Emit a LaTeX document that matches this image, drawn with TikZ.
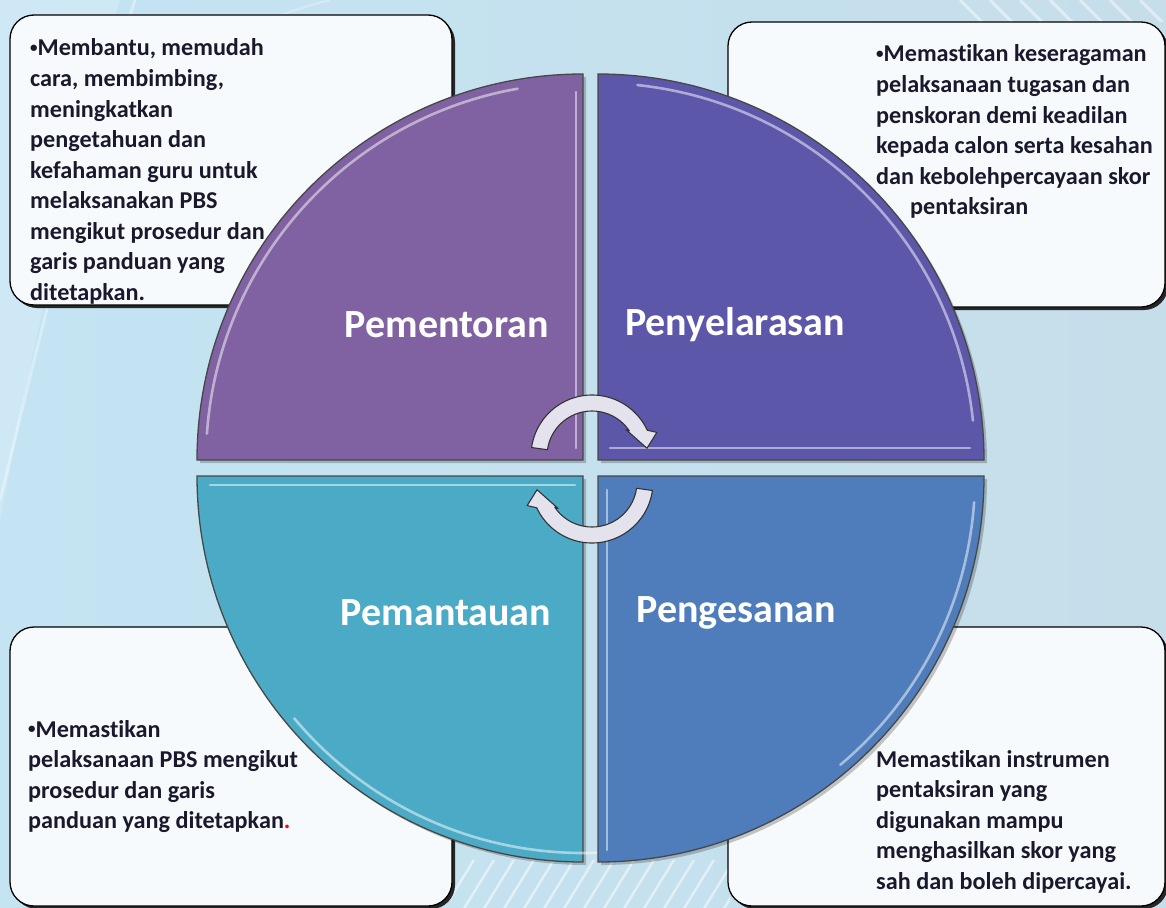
\documentclass[tikz,border=0pt]{standalone}
\usepackage{fontspec}
\setmainfont{Carlito}[Ligatures=NoCommon]
\newcommand\smallbul{\raisebox{0.28ex}{\fontsize{15}{15}\selectfont •}}
\begin{document}
\begin{tikzpicture}[x=1pt,y=1pt]
\definecolor{bgL}{RGB}{196,228,243}
\definecolor{bgM}{RGB}{212,238,248}
\definecolor{bgR}{RGB}{198,222,234}
\definecolor{cTL}{RGB}{128,98,162}
\definecolor{cTR}{RGB}{93,87,170}
\definecolor{cBL}{RGB}{75,170,198}
\definecolor{cBR}{RGB}{79,124,186}
\definecolor{txtc}{RGB}{26,24,44}
\definecolor{arrc}{RGB}{228,226,236}
\definecolor{boxc}{RGB}{247,250,252}
\tikzset{
  quad/.style={draw=black!72, line width=1.3pt},
  hl/.style={draw=white, opacity=0.5, line width=2.6pt, line cap=round},
  shadowq/.style={fill=black, opacity=0.22},
  tbox/.style={fill=boxc, draw=black, line width=1.3pt, rounded corners=24pt},
  tshadow/.style={fill=black!85, rounded corners=24pt},
  bodytxt/.style={anchor=base west, inner sep=0pt, text=txtc, font=\bfseries\fontsize{24.2}{28}\selectfont},
  lbl/.style={inner sep=0pt, text=white, font=\bfseries\fontsize{40}{42}\selectfont},
  cyc/.style={fill=arrc, draw=black!80, line width=1.1pt, line join=round}
}
\useasboundingbox (0,0) rectangle (1166,-907);
% background
\shade[left color=bgL, middle color=bgM, right color=bgR] (0,0) rectangle (1166,-907);
\fill[white, opacity=0.18] (120,0) .. controls (60,-200) and (20,-420) .. (0,-520) -- (0,0) -- cycle;
\draw[white, opacity=0.35, line width=3pt] (135,0) .. controls (70,-200) and (25,-400) .. (0,-500);
\draw[white, opacity=0.3, line width=2pt] (330,0) .. controls (250,-20) and (180,-60) .. (140,-100);
\begin{scope}
\clip (450,-860) rectangle (730,-907);
\foreach \k in {0,...,14} {
  \draw[white, opacity=0.5, line width=2.5pt] ({440+20*\k},-915) -- ({480+20*\k},-850);
}
\end{scope}
\begin{scope}
\clip (880,0) rectangle (1166,-22);
\foreach \k in {0,...,6} {
  \draw[white, opacity=0.45, line width=3pt] ({960+30*\k},0) -- ({990+30*\k},-30);
}
\end{scope}
% text boxes
\fill[tshadow] (13,-18) rectangle (455,-308);
\draw[tbox] (10,-15) rectangle (452,-305);
\fill[tshadow] (731,-25) rectangle (1168,-310);
\draw[tbox] (728,-22) rectangle (1165,-307);
\fill[tshadow] (13,-630) rectangle (455,-909);
\draw[tbox] (10,-627) rectangle (452,-906);
\fill[tshadow] (731,-630) rectangle (1168,-909);
\draw[tbox] (728,-627) rectangle (1165,-906);
% quadrant shadows
\fill[shadowq] (586,-463) -- (200,-463) arc[start angle=180,end angle=90,radius=386] -- cycle;
\fill[shadowq] (601,-463) -- (601,-77) arc[start angle=90,end angle=0,radius=386] -- cycle;
\fill[shadowq] (586,-479) -- (200,-479) arc[start angle=180,end angle=270,radius=386] -- cycle;
\fill[shadowq] (601,-479) -- (987,-479) arc[start angle=0,end angle=-90,radius=386] -- cycle;
% quadrants
\filldraw[quad, fill=cTL] (583,-460) -- (197,-460) arc[start angle=180,end angle=90,radius=386] -- cycle;
\filldraw[quad, fill=cTR] (598,-460) -- (598,-74) arc[start angle=90,end angle=0,radius=386] -- cycle;
\filldraw[quad, fill=cBL] (583,-476) -- (197,-476) arc[start angle=180,end angle=270,radius=386] -- cycle;
\filldraw[quad, fill=cBR] (598,-476) -- (984,-476) arc[start angle=0,end angle=-90,radius=386] -- cycle;
% highlights
\draw[hl] (576,-92) -- (576,-448);
\draw[hl] ([shift={(176:377)}]583,-460) arc[start angle=176,end angle=100,radius=377];
\draw[hl] (610,-448) -- (970,-448);
\draw[hl] ([shift={(84:377)}]598,-460) arc[start angle=84,end angle=6,radius=377];
\draw[hl] (210,-485) -- (575,-485);
\draw[hl] ([shift={(-140:377)}]583,-476) arc[start angle=-140,end angle=-88,radius=377];
\draw[hl] (607,-490) -- (607,-850);
\draw[hl] ([shift={(-4:377)}]598,-476) arc[start angle=-4,end angle=-50,radius=377];
% labels
\node[lbl] (lTL) at (447,-325) {Pementoran};
\node[lbl] (lTR) at (735,-325) {Penyelarasan};
\node[lbl] (lBL) at (446,-613) {Pemantauan};
\node[lbl] (lBR) at (736,-613) {Pengesanan};
% cycle arrows
\filldraw[cyc, shift={(592,-456)}] (172:45) -- (172:61) arc[start angle=172,end angle=25,radius=61]
  -- (20:69) -- (8:55.5) -- (38:43) -- (34:45) arc[start angle=34,end angle=172,radius=45] -- cycle;
\filldraw[cyc, shift={(592,-482)}] (-8:45) -- (-8:61) arc[start angle=-8,end angle=-155,radius=61]
  -- (200:69) -- (188:55.5) -- (218:43) -- (214:45) arc[start angle=-146,end angle=-8,radius=45] -- cycle;
% texts
\foreach \t [count=\i from 0] in {{\smallbul Membantu, memudah},{cara, membimbing,},{meningkatkan},{pengetahuan dan},{kefahaman guru untuk},{melaksanakan PBS},{mengikut prosedur dan},{garis panduan yang},{ditetapkan.}}
  \node[bodytxt, name=tl\i] at (30,{-56-30.5*\i}) {\t};
\foreach \t [count=\i from 0] in {{\smallbul Memastikan keseragaman},{pelaksanaan tugasan dan},{penskoran demi keadilan},{kepada calon serta kesahan},{dan kebolehpercayaan skor}}
  \node[bodytxt, name=tr\i] at (876,{-62-30.5*\i}) {\t};
\node[bodytxt] (tr5) at (910,-214.5) {pentaksiran};
\foreach \t [count=\i from 0] in {{\smallbul Memastikan},{pelaksanaan PBS mengikut},{prosedur dan garis},{panduan yang ditetapkan{\color{red}.}}}
  \node[bodytxt, name=bl\i] at (28,{-737-30.5*\i}) {\t};
\foreach \t [count=\i from 0] in {{Memastikan instrumen},{pentaksiran yang},{digunakan mampu},{menghasilkan skor yang},{sah dan boleh dipercayai.}}
  \node[bodytxt, name=br\i] at (876,{-767-30.5*\i}) {\t};
\end{tikzpicture}
\end{document}
